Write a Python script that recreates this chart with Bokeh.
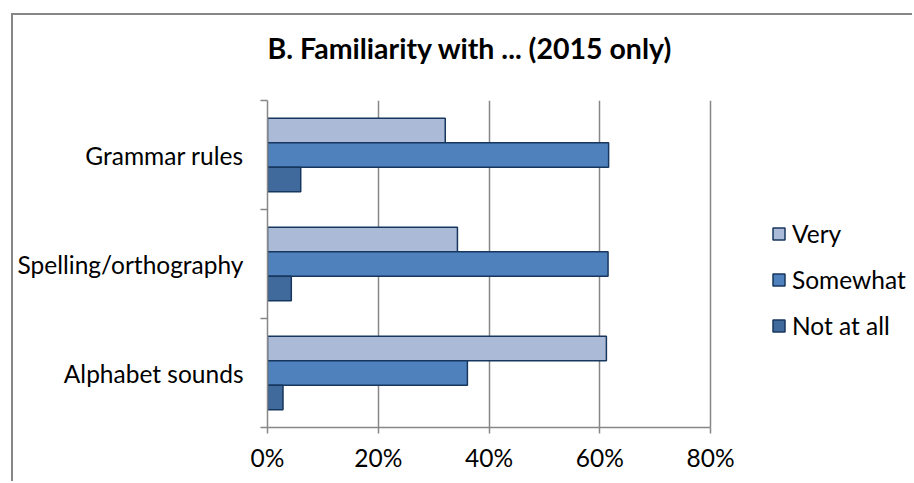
from bokeh.plotting import figure
from bokeh.models import (Legend, LegendItem, FixedTicker, PrintfTickFormatter,
                          Range1d, ColumnDataSource, Title)
from bokeh.embed import file_html
from bokeh.resources import INLINE

# ---- data ----
categories = ["Grammar rules", "Spelling/orthography", "Alphabet sounds"]  # top to bottom
series = ["Very", "Somewhat", "Not at all"]
very = [32.1, 34.3, 61.2]
somewhat = [61.6, 61.5, 36.1]
not_at_all = [6.0, 4.3, 2.8]
x_ticks = [0, 20, 40, 60, 80]
title_text = "B. Familiarity with ... (2015 only)"

# ---- styles / layout ----
colors = ["#AABAD7", "#4F81BD", "#416A9C"]
edge = "#17375E"
grey = "#878787"
FONT = "Lato"
LBL = "24.5px"
bar_h = 0.225
offsets = [bar_h, 0.0, -bar_h]

W, H = 901, 468
ML, MT, MB = 254, 85, 56
AXIS_PX = 443.0          # pixel length of the 0-80 % axis
x_max = x_ticks[-1] * (W - ML) / AXIS_PX   # frame extends to the right edge (legend area)

n = len(categories)
cat_y = [n - i - 0.5 for i in range(n)]

p = figure(width=W, height=H, x_range=Range1d(0, x_max), y_range=Range1d(0, n),
           output_backend="svg", toolbar_location=None,
           min_border_left=ML, min_border_right=0, min_border_top=MT, min_border_bottom=MB,
           styles={"margin-left": "11px", "margin-top": "13px",
                   "border-left": "2px solid #878787", "border-top": "2px solid #878787"})
# white spacer panel between the frame and the title (first added = nearest the frame)
p.add_layout(Title(text=" ", text_font_size="1px", text_color="#ffffff", standoff=33), "above")
t = Title(text=title_text, align="left", text_font=FONT, text_font_size="28.5px",
          text_font_style="bold", text_color="#000000", standoff=0, offset=0)
p.add_layout(t, "above")

renderers = []
for vals, name, col, off in zip([very, somewhat, not_at_all], series, colors, offsets):
    src = ColumnDataSource(dict(y=[yy + off for yy in cat_y], right=vals, cat=categories))
    r = p.hbar(y="y", right="right", left=0, height=bar_h, source=src,
               fill_color=col, line_color=edge, line_width=1.5)
    renderers.append(r)

# x axis (only 0-80 % drawn)
p.xaxis.bounds = (x_ticks[0], x_ticks[-1])
p.xaxis.ticker = FixedTicker(ticks=x_ticks, minor_ticks=[])
p.xaxis.formatter = PrintfTickFormatter(format="%d%%")
p.xaxis.axis_line_color = grey
p.xaxis.axis_line_width = 1.5
p.xaxis.major_tick_line_color = grey
p.xaxis.major_tick_line_width = 1.5
p.xaxis.major_tick_out = 6
p.xaxis.major_tick_in = 0
p.xaxis.minor_tick_line_color = None
p.xaxis.major_label_text_font = FONT
p.xaxis.major_label_text_font_size = LBL
p.xaxis.major_label_text_color = "#000000"
p.xaxis.major_label_standoff = 9

# y axis: labels at category centres, ticks at category boundaries
p.yaxis.ticker = FixedTicker(ticks=cat_y, minor_ticks=list(range(n + 1)))
p.yaxis.major_label_overrides = {yy: c for yy, c in zip(cat_y, categories)}
p.yaxis.major_tick_line_color = None
p.yaxis.major_tick_out = 0
p.yaxis.major_tick_in = 0
p.yaxis.minor_tick_line_color = grey
p.yaxis.minor_tick_line_width = 1.5
p.yaxis.minor_tick_out = 7
p.yaxis.minor_tick_in = 0
p.yaxis.axis_line_color = grey
p.yaxis.axis_line_width = 1.5
p.yaxis.major_label_text_font = FONT
p.yaxis.major_label_text_font_size = LBL
p.yaxis.major_label_text_color = "#000000"
p.yaxis.major_label_standoff = 17

p.ygrid.visible = False
p.xgrid.grid_line_color = grey
p.xgrid.grid_line_width = 1.5
p.outline_line_color = None

legend = Legend(items=[LegendItem(label=s, renderers=[r]) for s, r in zip(series, renderers)],
                location=(504, 87), orientation="vertical",
                glyph_width=15, glyph_height=15, label_standoff=6,
                label_text_font=FONT, label_text_font_size=LBL, label_text_color="#000000",
                label_height=15, spacing=17, padding=0, margin=0,
                border_line_color=None, background_fill_alpha=0)
p.add_layout(legend, "center")

open("out.html", "w").write(file_html(p, INLINE))
